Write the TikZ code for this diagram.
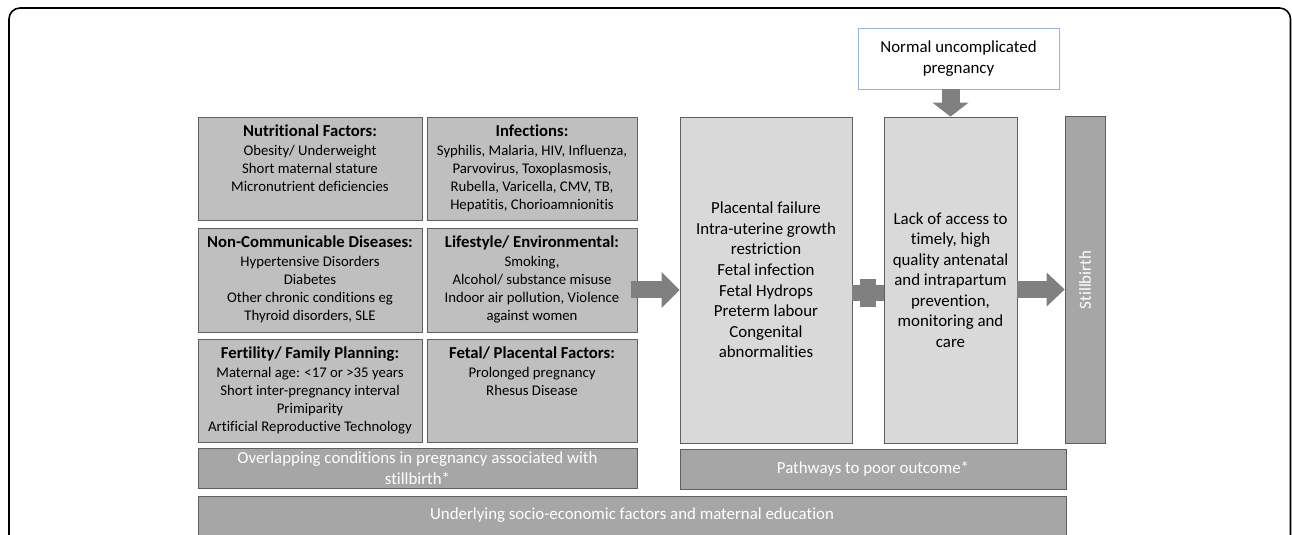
\documentclass[tikz,border=0pt]{standalone}
\usepackage{fontspec}
\setmainfont{Carlito}[Ligatures=NoCommon]
\usetikzlibrary{positioning, arrows.meta, calc}

\definecolor{factorfill}{HTML}{BFBFBF}
\definecolor{pathfill}{HTML}{D9D9D9}
\definecolor{barfill}{HTML}{A6A6A6}
\definecolor{edgegray}{HTML}{5F5F5F}
\definecolor{arrowgray}{HTML}{808080}
\definecolor{normalblue}{HTML}{95B3D7}

\newcommand{\boxtitle}[1]{{\fontsize{9.5}{10.8}\selectfont\bfseries #1}\\[0.6pt]}

\begin{document}
\begin{tikzpicture}[
    % --- STYLES ---
    factor/.style={
            draw=edgegray,
            fill=factorfill,
            minimum height=2.06cm,
            minimum width=4.48cm,
            inner sep=0pt
        },
    factxt/.style={
            anchor=north,
            yshift=-0.15cm,
            inner sep=0pt,
            align=center,
            font=\fontsize{8.4}{10.3}\selectfont
        },
    pathway/.style={
            draw=edgegray,
            fill=pathfill,
            minimum height=6.52cm,
            align=center,
            inner sep=0pt,
            font=\fontsize{9.6}{11.7}\selectfont
        },
    bar/.style={
            draw=edgegray,
            fill=barfill,
            minimum height=0.80cm,
            inner sep=0pt,
            align=center,
            text=white,
            font=\fontsize{9.6}{11.7}\selectfont
        },
    fat/.style={
            draw=arrowgray,
            line width=0.34cm,
            -{Triangle[length=0.36cm, width=0.72cm, line width=0pt]}
        },
    plusbar/.style={
            draw=arrowgray,
            line width=0.31cm
        }
    ]

    \useasboundingbox (0,0) rectangle (25.84,10.68);
    \clip (0,0) rectangle (25.84,10.68);

    % --- FRAME ---
    \draw[line width=0.9pt, rounded corners=0.22cm] (0.18,-0.4) -- (0.18,10.52) -- (25.81,10.52) -- (25.81,-0.4);

    % --- RISK FACTORS (left) ---
    \node[factor] (nutr) at (6.20, 7.31) {};
    \node[factor, minimum width=4.20cm] (infect) at (10.64, 7.31) {};
    \node[factor, minimum height=2.08cm] (ncd) at (6.20, 5.08) {};
    \node[factor, minimum width=4.20cm, minimum height=2.08cm] (life) at (10.64, 5.08) {};
    \node[factor] (fert) at (6.20, 2.87) {};
    \node[factor, minimum width=4.20cm] (fetal) at (10.64, 2.87) {};

    \node[factxt] at (nutr.north) {\boxtitle{Nutritional Factors:}Obesity/ Underweight\\Short maternal stature\\Micronutrient deficiencies};
    \node[factxt] at (infect.north) {\boxtitle{Infections:}Syphilis, Malaria, HIV, Influenza,\\Parvovirus, Toxoplasmosis,\\Rubella, Varicella, CMV, TB,\\Hepatitis, Chorioamnionitis};
    \node[factxt] at (ncd.north) {\boxtitle{Non-Communicable Diseases:}Hypertensive Disorders\\Diabetes\\Other chronic conditions eg\\Thyroid disorders, SLE};
    \node[factxt] at (life.north) {\boxtitle{Lifestyle/ Environmental:}Smoking,\\Alcohol/ substance misuse\\Indoor air pollution, Violence\\against women};
    \node[factxt] at (fert.north) {\boxtitle{Fertility/ Family Planning:}Maternal age: <17 or >35 years\\Short inter-pregnancy interval\\Primiparity\\Artificial Reproductive Technology};
    \node[factxt] at (fetal.north) {\boxtitle{Fetal/ Placental Factors:}Prolonged pregnancy\\Rhesus Disease};

    % --- PATHWAYS (right) ---
    \node[pathway, minimum width=3.44cm] (plac) at (15.32, 5.08) {Placental failure\\Intra-uterine growth\\restriction\\Fetal infection\\Fetal Hydrops\\Preterm labour\\Congenital\\abnormalities};
    \node[pathway, minimum width=2.66cm] (lack) at (19.01, 5.08) {Lack of access to\\timely, high\\quality antenatal\\and intrapartum\\prevention,\\monitoring and\\care};
    \node[bar, minimum width=0.80cm, minimum height=6.54cm] (still) at (21.70, 5.08) {\rotatebox{90}{Stillbirth}};
    \node[draw=normalblue, fill=white, minimum width=4.02cm, minimum height=1.22cm, align=center,
        font=\fontsize{9.6}{11.7}\selectfont] (normal) at (19.17, 9.51) {Normal uncomplicated\\pregnancy};

    % --- BOTTOM BARS ---
    \node[bar, minimum width=8.78cm] (overlap) at (8.35, 1.32) {Overlapping conditions in pregnancy associated with\\stillbirth*};
    \node[bar, minimum width=7.72cm] (poor) at (17.46, 1.30) {Pathways to poor outcome*};
    \node[bar, minimum width=17.36cm, minimum height=1.0cm, anchor=north,
        label={[anchor=center, yshift=-0.38cm, text=white, font=\fontsize{9.6}{11.7}\selectfont]north:Underlying socio-economic factors and maternal education}]
        (socio) at (12.64, 0.76) {};

    % --- ARROWS ---
    \coordinate (feed) at ([xshift=-0.12cm, yshift=-0.20cm]life.east);
    \draw[fat] (feed) -- (plac.west |- feed);

    \coordinate (joint) at ($(plac.east)!0.5!(lack.west) + (0,-0.26)$);
    \draw[plusbar] (plac.east |- joint) -- (lack.west |- joint);
    \draw[plusbar] ([yshift=0.28cm]joint) -- ([yshift=-0.28cm]joint);

    \coordinate (out) at ([yshift=-0.19cm]lack.east);
    \draw[fat, -{Triangle[length=0.36cm, width=0.68cm, line width=0pt]}] (out) -- (still.west |- out);

    \draw[fat, line width=0.36cm, -{Triangle[length=0.28cm, width=0.72cm, line width=0pt]}] (lack.north |- normal.south) -- (lack.north);

\end{tikzpicture}
\end{document}
